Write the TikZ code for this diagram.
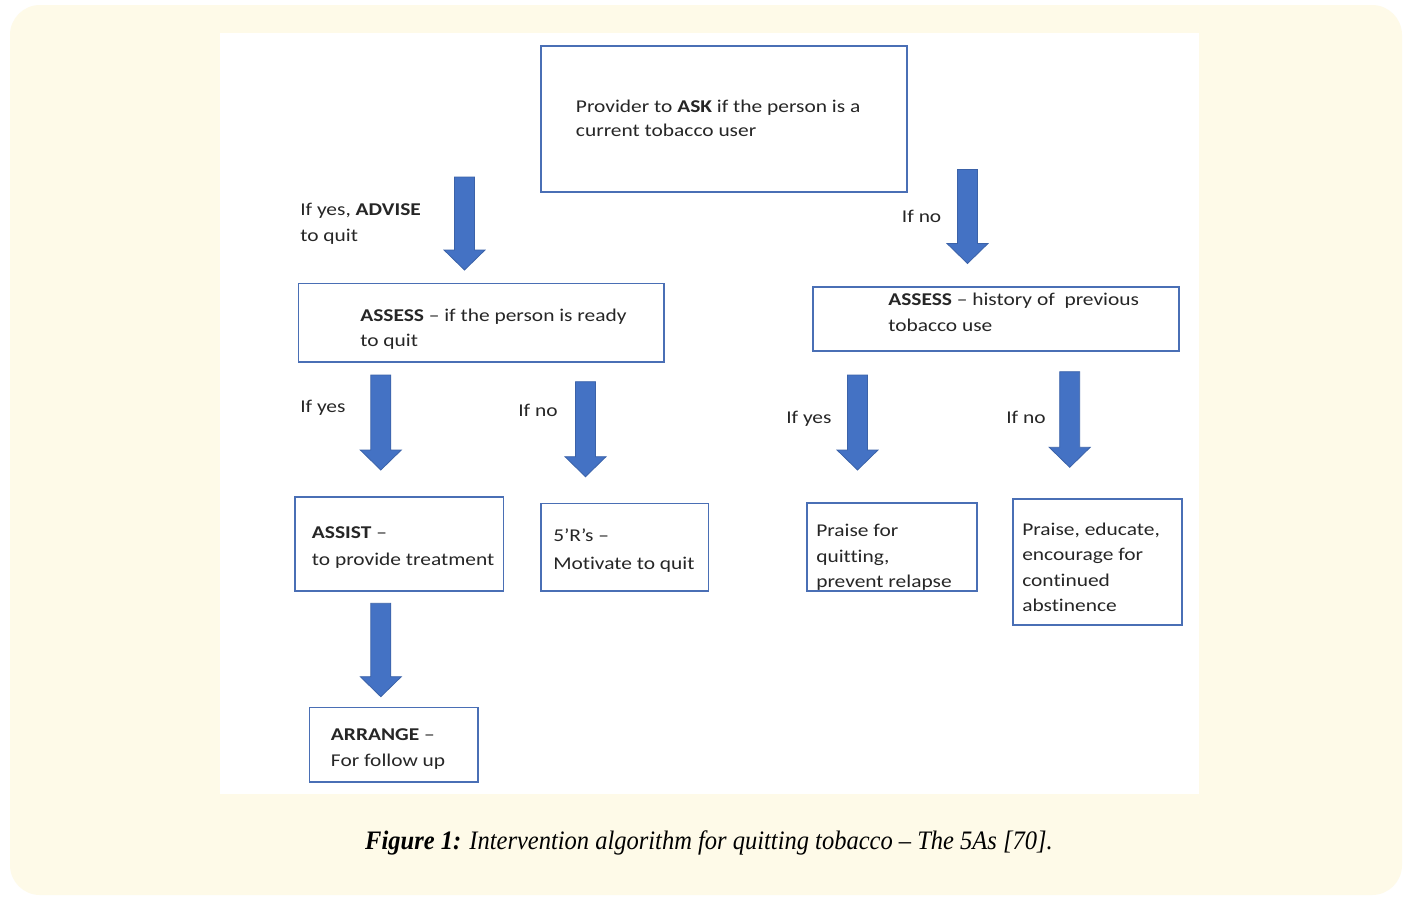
\documentclass[tikz,border=0pt]{standalone}
\usepackage{fontspec}
\setmainfont{Carlito}[FakeStretch=1.19, Ligatures=NoCommon]
\newfontfamily\capfont{Liberation Serif}
\usetikzlibrary{fit}
\definecolor{bgcream}{HTML}{FEFAE8}
\definecolor{boxblue}{HTML}{4A6FB5}
\definecolor{arrowfill}{HTML}{4472C4}
\definecolor{arrowedge}{HTML}{3B62A8}
\definecolor{txtcol}{HTML}{262626}
\newcommand{\blockarrow}[2]{\draw[arrowstyle] (#1) ++(-10,0) -- ++(20,0) -- ++(0,#2-20) -- ++(10.5,0) -- ++(-20.5,20) -- ++(-20.5,-20) -- ++(10.5,0) -- cycle;}
\begin{document}
\begin{tikzpicture}[x=0.75pt,y=-0.75pt,
  box/.style={draw=boxblue, line width=1.2pt, inner sep=0pt, fill=white},
  txt/.style={text=txtcol, inner sep=0pt, anchor=base west, align=left},
  arrowstyle/.style={fill=arrowfill, draw=arrowedge, line width=0.6pt, line join=miter}]
\useasboundingbox (0,0) rectangle (1406,896);
\fill[white] (0,0) rectangle (1406,896);
\fill[bgcream, rounded corners=22.5pt] (10,5) rectangle (1402,895);
\fill[white] (220,33) rectangle (1199,794);

% boxes
\node[box, fit={(540.7,46) (906.7,191.7)}] (ask) {};
\node[box, fit={(298.3,283.3) (664,361.7)}] (assessL) {};
\node[box, fit={(812.7,286.7) (1179,350.7)}] (assessR) {};
\node[box, fit={(295,496.7) (503.3,590.7)}] (assist) {};
\node[box, fit={(540.7,503.3) (708.3,590.7)}] (fiveR) {};
\node[box, fit={(807,503) (977,591)}] (praiseA) {};
\node[box, fit={(1013,499) (1182,625)}] (praiseB) {};
\node[box, fit={(309.3,707.3) (477.7,781.7)}] (arrange) {};

% box texts (anchored at the baseline of the last line)
\node[txt, font=\fontsize{13.5}{18.5}\selectfont] (askT) at (575.7,136.7)
  {Provider to \textbf{ASK} if the person is a\\current tobacco user};
\node[txt, font=\fontsize{13.5}{18.75}\selectfont] (assessLT) at (360,346.7)
  {\textbf{ASSESS} – if the person is ready\\to quit};
\node[txt, font=\fontsize{13.5}{19.3}\selectfont] (assessRT) at (888,331.7)
  {\textbf{ASSESS} – history of~ previous\\tobacco use};
\node[txt, font=\fontsize{13.5}{20.25}\selectfont] (assistT) at (311.7,565)
  {\textbf{ASSIST} –\\to provide treatment};
\node[txt, font=\fontsize{13.5}{20.5}\selectfont] (fiveRT) at (553,569)
  {5’R’s –\\Motivate to quit};
\node[txt, font=\fontsize{13.5}{19}\selectfont] (praiseAT) at (816,587.5)
  {Praise for\\quitting,\\prevent relapse};
\node[txt, font=\fontsize{13.5}{19}\selectfont] (praiseBT) at (1022,611.5)
  {Praise, educate,\\encourage for\\continued\\abstinence};
\node[txt, font=\fontsize{13.5}{19.3}\selectfont] (arrangeT) at (330.7,766.5)
  {\textbf{ARRANGE} –\\For follow up};

% labels
\node[txt, font=\fontsize{13.5}{19.5}\selectfont] (lab1) at (300,241) {If yes, \textbf{ADVISE}\\to quit};
\node[txt, font=\fontsize{13.5}{18}\selectfont] (lab2) at (901.7,222.7) {If no};
\node[txt, font=\fontsize{13.5}{18}\selectfont] (lab3) at (300,412.7) {If yes};
\node[txt, font=\fontsize{13.5}{18}\selectfont] (lab4) at (518,416) {If no};
\node[txt, font=\fontsize{13.5}{18}\selectfont] (lab5) at (786,423.5) {If yes};
\node[txt, font=\fontsize{13.5}{18}\selectfont] (lab6) at (1006,423.5) {If no};

% arrows
\coordinate (a1) at (464.5,177);
\coordinate (a2) at (967.5,169.5);
\coordinate (a3) at (380.8,375);
\coordinate (a4) at (585.5,381.7);
\coordinate (a5) at (857.5,375);
\coordinate (a6) at (1069.7,371.7);
\coordinate (a7) at (380.8,603.3);
\blockarrow{a1}{93}
\blockarrow{a2}{94}
\blockarrow{a3}{95}
\blockarrow{a4}{95}
\blockarrow{a5}{95}
\blockarrow{a6}{95.6}
\blockarrow{a7}{93.4}

% caption
\node[inner sep=0pt, anchor=base, font=\capfont\fontsize{20}{24}\selectfont] (cap) at (709,849.3)
  {\scalebox{0.919}[1]{\textbf{\textit{Figure 1:}} \textit{Intervention algorithm for quitting tobacco – The 5As [70].}}};
\end{tikzpicture}
\end{document}
